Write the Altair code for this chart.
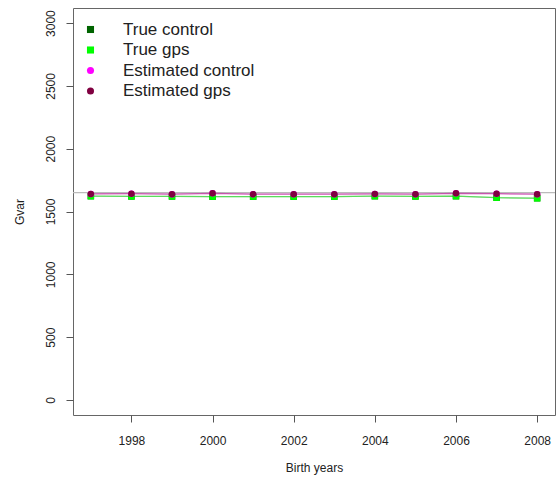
import altair as alt
import pandas as pd

years = list(range(1997, 2009))
series_names = ["True control", "True gps", "Estimated control", "Estimated gps"]
true_control = [1622, 1620, 1620, 1618, 1618, 1618, 1618, 1622, 1620, 1622, 1610, 1606]
true_gps = [1622, 1620, 1620, 1618, 1618, 1618, 1618, 1622, 1620, 1622, 1610, 1605]
est_control = [1640, 1642, 1638, 1645, 1638, 1638, 1638, 1640, 1638, 1645, 1642, 1638]
est_gps = [1640, 1642, 1638, 1645, 1638, 1638, 1638, 1640, 1638, 1645, 1642, 1638]
reference_value = [1650]
colors = ["#006400", "#00ff00", "#ff00ff", "#800040"]
shapes = ["square", "square", "circle", "circle"]

rows = []
for name, vals in zip(series_names, [true_control, true_gps, est_control, est_gps]):
    for y, v in zip(years, vals):
        rows.append({"series": name, "year": y, "value": v, "order": series_names.index(name)})
df = pd.DataFrame(rows)

xscale = alt.Scale(domain=[1996.56, 2008.44], nice=False, zero=False)
yscale = alt.Scale(domain=[-120, 3120], nice=False, zero=False)
cscale = alt.Scale(domain=series_names, range=colors)
sscale = alt.Scale(domain=series_names, range=shapes)

xaxis = alt.Axis(title="Birth years", values=[1998, 2000, 2002, 2004, 2006, 2008], format="d",
                 grid=False, domain=False, tickSize=7, tickColor="#555555", labelPadding=13,
                 labelFont="Liberation Sans", labelFontSize=12, labelColor="#222222",
                 titleFont="Liberation Sans", titleFontSize=12, titleFontWeight="normal",
                 titleColor="#222222", titlePadding=16)
yaxis = alt.Axis(title="Gvar", values=[0, 500, 1000, 1500, 2000, 2500, 3000], format="d",
                 grid=False, domain=False, tickSize=7, tickColor="#555555", labelAngle=270,
                 labelAlign="center", labelBaseline="bottom", labelPadding=9,
                 labelFont="Liberation Sans", labelFontSize=12, labelColor="#222222",
                 titleFont="Liberation Sans", titleFontSize=12, titleFontWeight="normal",
                 titleColor="#222222", titlePadding=18)

legend = alt.Legend(title=None, orient="none", legendX=9, legendY=13,
                    labelFont="Liberation Sans", labelFontSize=17,
                    labelColor="#222222", symbolSize=50, symbolOpacity=1,
                    labelOffset=24, rowPadding=2.5, symbolStrokeWidth=0)

base = alt.Chart(df)

lines = base.mark_line(strokeWidth=1.2, opacity=0.4).encode(
    x=alt.X("year:Q", scale=xscale, axis=xaxis),
    y=alt.Y("value:Q", scale=yscale, axis=yaxis),
    color=alt.Color("series:N", scale=cscale, legend=legend),
    detail="series:N",
    order="year:Q",
)

points = base.mark_point(filled=True, opacity=1, size=42).encode(
    x=alt.X("year:Q", scale=xscale),
    y=alt.Y("value:Q", scale=yscale),
    color=alt.Color("series:N", scale=cscale, legend=legend),
    shape=alt.Shape("series:N", scale=sscale, legend=legend),
    order=alt.Order("order:Q"),
)

rule = alt.Chart(pd.DataFrame({"v": reference_value})).mark_rule(color="#bbbbbb", strokeWidth=1.3).encode(
    y=alt.Y("v:Q", scale=yscale)
)

chart = alt.layer(rule, lines, points).properties(
    width=482, height=407,
    autosize=alt.AutoSizeParams(type="none"),
    padding={"left": 73, "top": 8, "right": 4, "bottom": 69},
    background="white",
).configure_view(stroke="#666666", strokeWidth=1)

chart.save("out.html", embed_options={"renderer": "svg", "actions": False})
